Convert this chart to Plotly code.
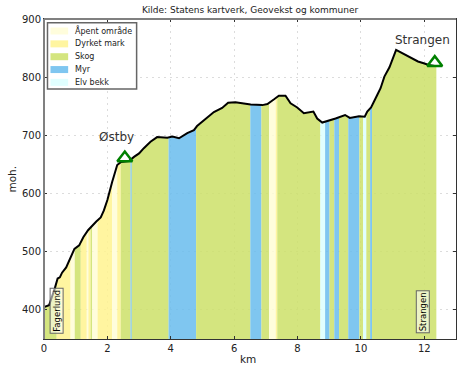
import numpy as np
import plotly.graph_objects as go

profile_km = [0, .16, .34, .43, .5, .57, .7, .8, .96, 1.11, 1.24, 1.39, 1.53, 1.65, 1.79, 1.89, 2.0, 2.07, 2.15, 2.2, 2.31, 2.42,
              2.68, 2.84, 3.0, 3.15, 3.36, 3.57, 3.89, 4.05, 4.26, 4.52, 4.73, 4.83, 5.1, 5.36, 5.62, 5.81, 6.04, 6.52, 6.89,
              7.05, 7.26, 7.41, 7.62, 7.78, 7.99, 8.2, 8.5, 8.62, 8.78, 8.99, 9.2, 9.5, 9.65, 9.94, 10.12, 10.2, 10.32, 10.51,
              10.62, 10.74, 10.9, 11.11, 11.35, 11.56, 11.8, 11.98, 12.14, 12.37]
profile_m = [405, 408, 437, 454, 456, 464, 473, 485, 505, 511, 525, 537, 546, 552, 559, 571, 589, 606, 620, 629, 649, 654,
             656, 663, 669, 678, 689, 697, 696, 698, 695, 704, 709, 716, 728, 740, 747, 756, 757, 753, 752,
             754, 762, 768, 768, 755, 748, 738, 741, 729, 722, 725, 729, 735, 730, 733, 732, 741, 748, 769,
             781, 801, 817, 847, 840, 835, 827, 824, 821, 819]

band_start = [0, .4, .84, .97, 1.16, 1.35, 1.4, 1.47, 1.52, 1.69, 2.15, 2.31, 2.42, 2.73, 2.77, 3.93, 4.8, 6.51, 6.86, 7.1, 7.31,
              7.36, 8.72, 8.87, 9.01, 9.16, 9.31, 9.6, 9.95, 10.07, 10.17, 10.29, 10.35]
band_end = band_start[1:] + [12.38]
band_type = ["Skog", "Dyrket mark", "Åpent område", "Skog", "Dyrket mark", "Åpent område", "Dyrket mark", "Skog",
             "Åpent område", "Dyrket mark", "Åpent område", "Dyrket mark", "Skog", "Myr", "Skog", "Myr", "Skog", "Myr",
             "Skog", "Åpent område", "Dyrket mark", "Skog", "Elv bekk", "Myr", "Skog", "Myr", "Skog", "Myr", "Skog",
             "Elv bekk", "Skog", "Myr", "Skog"]
legend_order = ["Åpent område", "Dyrket mark", "Skog", "Myr", "Elv bekk"]
type_colors = {"Åpent område": "rgba(255,253,214,0.85)", "Dyrket mark": "rgba(255,243,143,0.85)",
               "Skog": "rgba(205,224,104,0.85)", "Myr": "rgba(105,188,237,0.85)", "Elv bekk": "rgba(219,255,255,0.85)"}

place_km = [2.55, 12.33]
place_m = [661, 825]
place_names = ["Østby", "Strangen"]

FONT = "DejaVu Sans"
W, H = 472, 367
L, R, T, B = 43.5, 456.3, 19, 339
def px(v):
    return (v - L) / (R - L)
def py(v):
    return (B - v) / (B - T)

fig = go.Figure()
pk, pm = np.array(profile_km), np.array(profile_m)
for a, b, t in zip(band_start, band_end, band_type):
    inside = (pk > a) & (pk < b)
    xs = [a, *pk[inside], b]
    ys = [np.interp(a, pk, pm), *pm[inside], np.interp(b, pk, pm)]
    fig.add_trace(go.Scatter(x=xs, y=ys, mode="lines", line=dict(width=0), fill="tozeroy", fillcolor=type_colors[t],
                             name=t, showlegend=False, hoverinfo="skip"))
fig.add_trace(go.Scatter(x=profile_km, y=profile_m, mode="lines", line=dict(color="black", width=2), showlegend=False))
fig.add_trace(go.Scatter(x=place_km, y=place_m, mode="markers", showlegend=False,
                         marker=dict(symbol="triangle-up-open", size=13, color="green", line=dict(color="green", width=2.5))))

for txt, x, y in [("Østby", 2.29, 697), ("Strangen", 11.95, 864)]:
    fig.add_annotation(x=x, y=y, text=txt, showarrow=False, font=dict(family=FONT, size=12, color="#333"))
for txt, x, y in [("Fagerlund", .4, 398), ("Strangen", 11.96, 396)]:
    fig.add_annotation(x=x, y=y, text=txt, textangle=-90, showarrow=False, font=dict(family=FONT, size=8.5, color="black"),
                       bordercolor="#666", borderwidth=1, borderpad=1, bgcolor="rgba(255,255,255,0.55)")

fig.add_annotation(xref="paper", yref="paper", x=px(248), y=py(359), xanchor="center", yanchor="middle", text="km",
                   showarrow=False, font=dict(family=FONT, size=10.5, color="#222"))
fig.add_annotation(xref="paper", yref="paper", x=px(11), y=py(179), xanchor="center", yanchor="middle", text="moh.",
                   textangle=-90, showarrow=False, font=dict(family=FONT, size=10.5, color="#222"))

shapes = [dict(type="line", xref="paper", yref="paper", x0=0, x1=0, y0=0, y1=1, line=dict(color="#808080", width=2)),
          dict(type="line", xref="paper", yref="paper", x0=0, x1=1, y0=1, y1=1, line=dict(color="#808080", width=2)),
          dict(type="rect", xref="paper", yref="paper", x0=px(47), x1=px(136.3), y0=py(89), y1=py(22.7),
               fillcolor="white", line=dict(color="#666", width=1.5))]
for i, t in enumerate(legend_order):
    cy = 31 + i * 12.85
    shapes.append(dict(type="rect", xref="paper", yref="paper", x0=px(50), x1=px(67.7), y0=py(cy + 3.5), y1=py(cy - 3.5),
                       fillcolor=type_colors[t], line=dict(width=0)))
    fig.add_annotation(xref="paper", yref="paper", x=px(73.3), y=py(cy), xanchor="left", yanchor="middle", text=t,
                       showarrow=False, font=dict(family=FONT, size=8, color="#222"), xshift=-1)

axis = dict(showgrid=True, gridcolor="#dcdcdc", griddash="2px,4px", gridwidth=1, zeroline=False, ticks="inside", ticklen=3,
            tickcolor="#333", linecolor="#333", linewidth=1, mirror="ticks", showline=True, automargin=False,
            tickfont=dict(family=FONT, size=10, color="#222"))
fig.update_layout(
    width=W, height=H, autosize=False, plot_bgcolor="white", paper_bgcolor="white",
    margin=dict(l=L, r=W - R, t=T, b=H - B, pad=0),
    title=dict(text="Kilde: Statens kartverk, Geovekst og kommuner", x=0.5, xref="paper", xanchor="center", y=0.972, yanchor="middle",
               font=dict(family=FONT, size=9, color="#222"), automargin=False),
    xaxis=dict(axis, range=[0, 13], tickvals=[0, 2, 4, 6, 8, 10, 12]),
    yaxis=dict(axis, range=[350, 900], tickvals=[400, 500, 600, 700, 800, 900]),
    shapes=shapes, showlegend=False, hovermode=False,
)
fig.write_html("out.html", post_script="document.body.style.margin='0';", config={"displayModeBar": False})
